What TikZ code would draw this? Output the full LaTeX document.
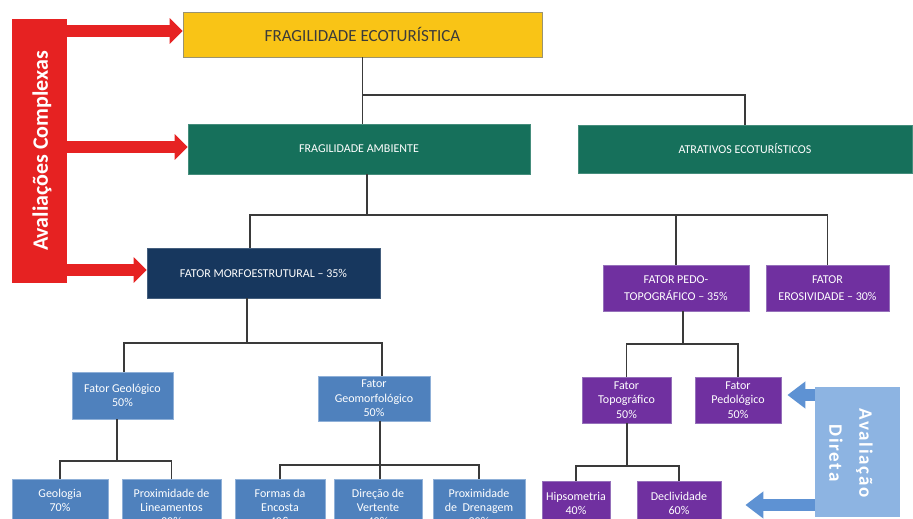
\documentclass[tikz,border=0pt]{standalone}
\usepackage{fontspec}
\setmainfont{Carlito}
\usetikzlibrary{arrows.meta,calc}
\definecolor{yelc}{HTML}{F9C416}
\definecolor{yelb}{HTML}{9A9370}
\definecolor{greenc}{HTML}{16705B}
\definecolor{navyc}{HTML}{17375E}
\definecolor{purplec}{HTML}{7030A0}
\definecolor{purpleb}{HTML}{9570BA}
\definecolor{bluec}{HTML}{4F81BD}
\definecolor{blueb}{HTML}{8FB0D8}
\definecolor{lightbluec}{HTML}{8DB4E2}
\definecolor{arrowblue}{HTML}{5E92D3}
\definecolor{redc}{HTML}{E62222}
\definecolor{linec}{HTML}{3A3A3A}
\definecolor{textdark}{HTML}{3B3B3B}
\begin{document}
\begin{tikzpicture}[x=1pt,y=-1pt,
  box/.style={rectangle, inner sep=0pt, align=center, text=white},
  greenbox/.style={box, fill=greenc, draw=greenc!80!white, line width=0.8pt, font=\fontsize{12}{14}\selectfont},
  navybox/.style={box, fill=navyc, draw=navyc!80!white, line width=0.8pt, font=\fontsize{12}{14}\selectfont},
  purplebig/.style={box, fill=purplec, draw=purpleb, line width=0.8pt, font=\fontsize{12}{16.5}\selectfont},
  purplesmall/.style={box, fill=purplec, draw=purpleb, line width=0.8pt, font=\fontsize{12}{14.5}\selectfont},
  bluebox/.style={box, fill=bluec, draw=blueb, line width=0.8pt, font=\fontsize{12}{14}\selectfont},
  conn/.style={draw=linec, line width=1.8pt},
  redarr/.style={draw=redc, line width=12pt, -{Triangle[length=13pt,width=25pt]}},
  bluearr/.style={draw=arrowblue, line width=12pt, -{Triangle[length=18pt,width=26pt]}}
]
\clip (0,0) rectangle (913,519);
\fill[white] (0,0) rectangle (913,519);

% level 0
\node[box, fill=yelc, draw=yelb, line width=0.8pt, text=textdark,
      minimum width=359pt, minimum height=45pt, font=\fontsize{17}{20}\selectfont]
      (yel) at (362.5,34.5) {FRAGILIDADE ECOTURÍSTICA};
% level 1
\node[greenbox, minimum width=342pt, minimum height=50pt] (fa) at (359,149) {FRAGILIDADE AMBIENTE};
\node[greenbox, minimum width=334pt, minimum height=48pt] (atr) at (745,149) {ATRATIVOS ECOTURÍSTICOS};
% level 2
\node[navybox, minimum width=233pt, minimum height=50pt] (morf) at (263.5,273) {FATOR MORFOESTRUTURAL -- 35\%};
\node[purplebig, minimum width=146pt, minimum height=46pt] (pedo) at (676,288) {FATOR PEDO-\\TOPOGRÁFICO -- 35\%};
\node[purplebig, minimum width=123pt, minimum height=46pt] (eros) at (827.5,288) {FATOR\\EROSIVIDADE -- 30\%};
% level 3
\node[bluebox, minimum width=101pt, minimum height=47pt] (geol) at (122.5,395.5) {Fator Geológico\\50\%};
\node[bluebox, minimum width=112pt, minimum height=45pt, font=\fontsize{12}{14.5}\selectfont] (geom) at (374,398.5) {Fator\\Geomorfológico\\50\%};
\node[purplesmall, minimum width=89pt, minimum height=46pt] (topo) at (626.5,400) {Fator\\Topográfico\\50\%};
\node[purplesmall, minimum width=86pt, minimum height=46pt] (pedol) at (738,400) {Fator\\Pedológico\\50\%};
% level 4
\node[bluebox, minimum width=96pt, minimum height=56pt] (geologia) at (60,507) {Geologia\\70\%\\\mbox{}};
\node[bluebox, minimum width=99pt, minimum height=56pt] (lin) at (171.5,507) {Proximidade de\\Lineamentos\\30\%};
\node[bluebox, minimum width=90pt, minimum height=56pt] (formas) at (280,507) {Formas da\\Encosta\\40\&};
\node[bluebox, minimum width=88pt, minimum height=56pt] (direcao) at (378,507) {Direção de\\Vertente\\40\%};
\node[bluebox, minimum width=92pt, minimum height=56pt] (dren) at (479,507) {Proximidade\\de\ \ Drenagem\\20\%};
\node[purplesmall, minimum width=68pt, minimum height=45pt] (hips) at (576,503.5) {Hipsometria\\40\%};
\node[purplesmall, minimum width=84pt, minimum height=45pt] (decl) at (679,503.5) {Declividade\\60\%};

% connector junctions
\coordinate (j1) at (362.5,95);
\coordinate (j2) at (367,215);
\coordinate (m1) at (250,215);
\coordinate (m2) at (247,343);
\coordinate (g1) at (124,343);
\coordinate (g2) at (382,343);
\coordinate (g3) at (117,461);
\coordinate (g4) at (380,465);
\coordinate (p1) at (683,344);
\coordinate (p2) at (627,466);

\draw[conn] (yel.south) -- (yel.south |- fa.north);
\draw[conn] (j1) -| (atr.north);
\draw[conn] (fa.south -| j2) -- (j2);
\draw[conn] (morf.north -| m1) -- (m1) -| (eros.north);
\draw[conn] (pedo.north) -- (pedo.north |- m1);
\draw[conn] (morf.south -| m2) -- (m2);
\draw[conn] (geol.north -| g1) -- (g1) -- (g2) -- (geom.north -| g2);
\draw[conn] (geol.south -| g3) -- (g3);
\draw[conn] (geologia.north) |- (g3) -| (lin.north);
\draw[conn] (geom.south -| g4) -- (direcao.north -| g4);
\draw[conn] (formas.north) |- (g4) -| (dren.north);
\draw[conn] (pedo.south -| p1) -- (p1);
\draw[conn] (topo.north) |- (p1) -| (pedol.north);
\draw[conn] (topo.south -| p2) -- (p2);
\draw[conn] (hips.north) |- (p2) -| (decl.north);

% Avaliações Complexas
\node[box, fill=redc, minimum width=55pt, minimum height=264pt] (rb) at (39.5,151) {};
\node[rotate=90, text=white, inner sep=0pt, font=\bfseries\fontsize{22}{26}\selectfont] (rbt) at (42,151) {Avaliações Complexas};
\coordinate (ya) at (0,31);
\coordinate (yb) at (0,147);
\coordinate (yc) at (0,270);
\draw[redarr] (rb.east |- ya) -- (yel.west |- ya);
\draw[redarr] (rb.east |- yb) -- (fa.west |- yb);
\draw[redarr] (rb.east |- yc) -- (morf.west |- yc);

% Avaliação Direta
\coordinate (b1) at (0,395);
\coordinate (b2) at (0,505);
\node[box, fill=lightbluec, minimum width=85pt, minimum height=130pt] (avd) at (857.5,452) {};
\draw[bluearr] (avd.west |- b1) -- ($(pedol.east |- b1)+(6,0)$);
\draw[bluearr] (avd.west |- b2) -- ($(decl.east |- b2)+(24,0)$);
\node[rotate=-90, text=white, inner sep=0pt, align=center,
      font=\bfseries\fontsize{19}{30}\selectfont\addfontfeatures{LetterSpace=9}] (avdt) at (851,453) {Avaliação\\Direta};
\end{tikzpicture}
\end{document}
